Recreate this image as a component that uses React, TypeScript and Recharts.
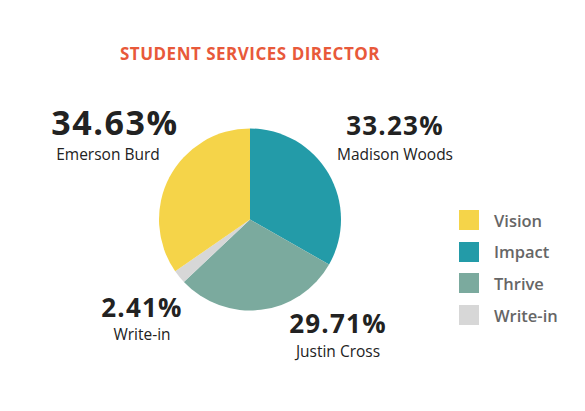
import { Legend, Pie, PieChart, Cell } from 'recharts'

const parties = ['Impact', 'Thrive', 'Write-in', 'Vision']
const candidates = ['Madison Woods', 'Justin Cross', 'Write-in', 'Emerson Burd']
const shares = [33.23, 29.71, 2.41, 34.63]
const colors = ['#239BA8', '#7BAA9E', '#D7D7D7', '#F5D449']
const legendOrder = ['Vision', 'Impact', 'Thrive', 'Write-in']

// label placement relative to pie centre (dx, dy of the percentage baseline) and size
const labelLayout = [
  { dx: 145, dy: -84.5, size: 26, nameDx: 0, gap: 25 },
  { dx: 88, dy: 113.5, size: 26, nameDx: 0, gap: 24 },
  { dx: -108, dy: 97.5, size: 26, nameDx: 0, gap: 23 },
  { dx: -135, dy: -84.5, size: 34, nameDx: -7, gap: 25 },
]

const FONT = '"Open Sans", "Noto Sans", sans-serif'

const data = parties.map((p, i) => ({ party: p, candidate: candidates[i], value: shares[i] }))

function renderLabel(props: any) {
  const { cx, cy, index } = props
  const l = labelLayout[index]
  const x = cx + l.dx
  const y = cy + l.dy
  return (
    <g>
      <text
        x={x}
        y={y}
        textAnchor="middle"
        fill="#222"
        fontFamily={FONT}
        fontWeight={700}
        fontSize={l.size}
        style={{ letterSpacing: l.size > 30 ? 1.6 : 1.2 }}
      >
        {shares[index].toFixed(2)}%
      </text>
      <text x={x + l.nameDx} y={y + l.gap} textAnchor="middle" fill="#222" fontFamily={FONT} fontWeight={500} fontSize={15.5}>
        {candidates[index]}
      </text>
    </g>
  )
}

function LegendBox() {
  return (
    <div style={{ fontFamily: FONT }}>
      {legendOrder.map((name) => (
        <div key={name} style={{ display: 'flex', alignItems: 'center', height: 20, marginBottom: 11.7 }}>
          <div style={{ width: 20, height: 20, background: colors[parties.indexOf(name)] }} />
          <span style={{ marginLeft: 15, fontSize: 16.5, fontWeight: 600, color: '#666' }}>{name}</span>
        </div>
      ))}
    </div>
  )
}

export default function App() {
  return (
    <div style={{ position: 'absolute', left: 0, top: 0, width: 585, height: 411, background: '#fff' }}>
      <div
        style={{
          position: 'absolute',
          left: 0,
          width: 500,
          top: 42,
          textAlign: 'center',
          fontFamily: FONT,
          fontWeight: 700,
          fontSize: 17,
          letterSpacing: 0.5,
          color: '#E8593A',
        }}
      >
        STUDENT SERVICES DIRECTOR
      </div>
      <PieChart width={585} height={411}>
        <Pie
          data={data}
          dataKey="value"
          nameKey="party"
          cx={245}
          cy={214.5}
          outerRadius={91}
          startAngle={90}
          endAngle={-270}
          stroke="none"
          label={renderLabel}
          labelLine={false}
          isAnimationActive={false}
        >
          {data.map((d, i) => (
            <Cell key={d.party} fill={colors[i]} />
          ))}
        </Pie>
        <Legend
          layout="vertical"
          content={() => <LegendBox />}
          wrapperStyle={{ position: 'absolute', left: 459, top: 210, width: 120 }}
        />
      </PieChart>
    </div>
  )
}
